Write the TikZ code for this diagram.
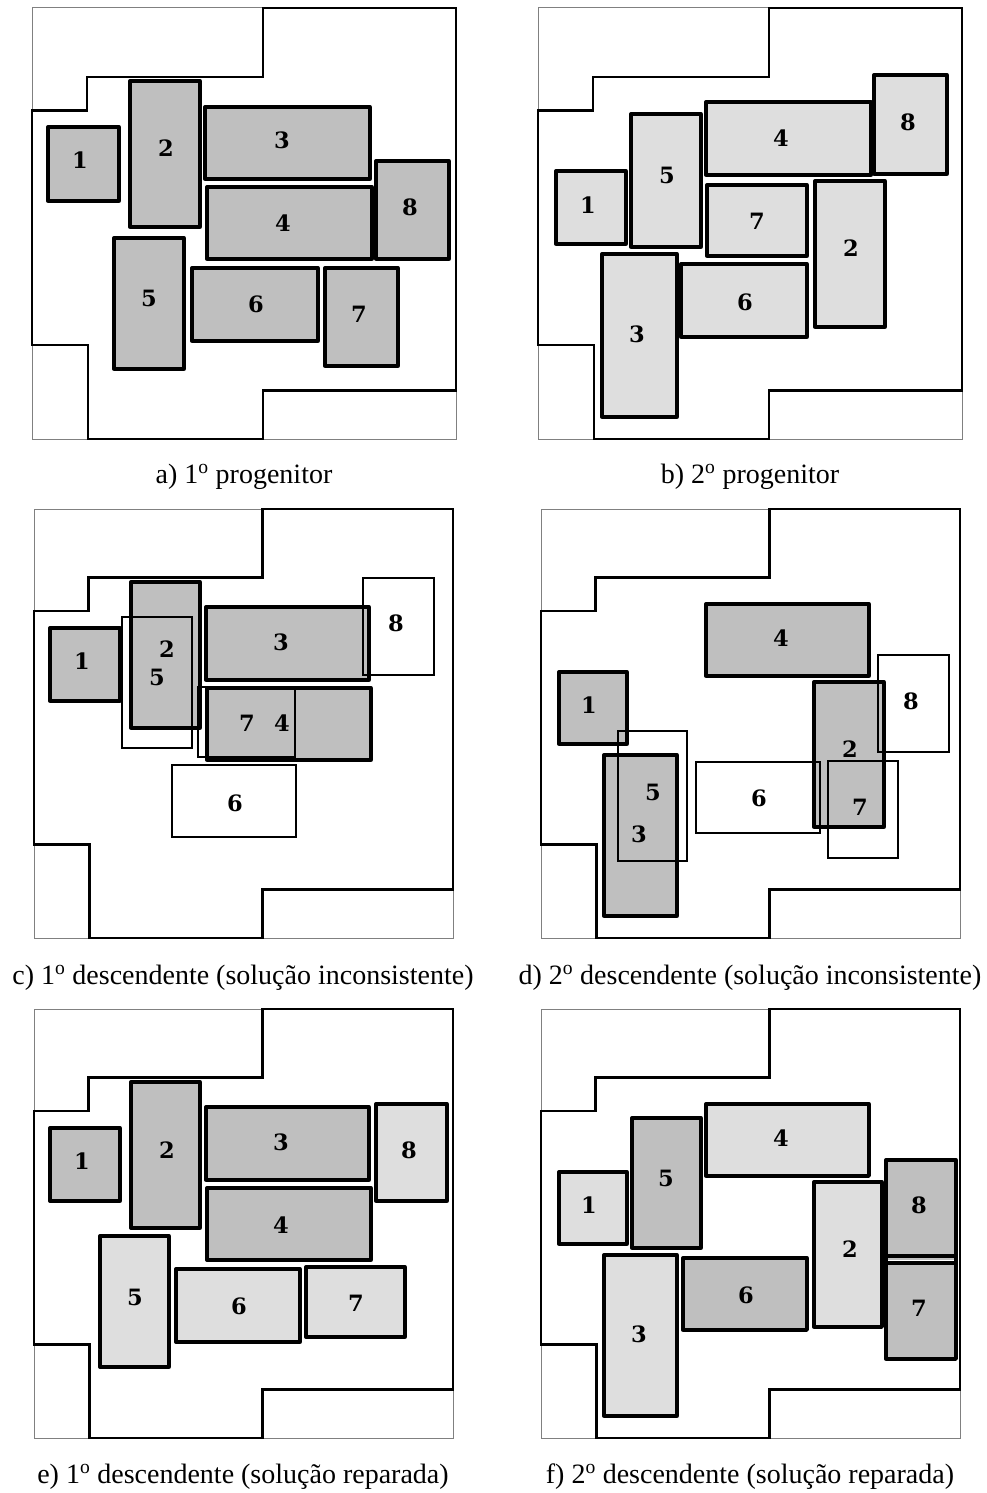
\documentclass[tikz,border=0pt]{standalone}
\usepackage{fontspec}
\setmainfont{Liberation Serif}
\newfontfamily\numfont{DejaVu Serif}
\definecolor{escuro}{gray}{0.75}
\definecolor{claro}{gray}{0.87}

\begin{document}
\begin{tikzpicture}[x=1pt,y=-1pt,
  moldura/.style={draw=gray,line width=1pt},
  contorno/.style={draw,line width=2.7pt},
  esc/.style={draw,line width=3.3pt,line join=round,fill=escuro},
  cla/.style={draw,line width=3.3pt,line join=round,fill=claro},
  vaz/.style={draw,line width=1.3pt},
  num/.style={inner sep=0pt,font=\numfont\fontsize{22.5}{22.5}\selectfont\bfseries},
  leg/.style={anchor=base,inner sep=0pt,font=\fontsize{28}{28}\selectfont}]
\useasboundingbox (0,0) rectangle (986,1493);
\foreach \xa/\ya/\xb/\yb in {32/8/456/439,538/8/962/439,34/509/453/938,541/509/960/938,34/1009/453/1438,541/1009/960/1438}{
  \pgfmathsetmacro\dx{\xb-\xa}\pgfmathsetmacro\dy{\yb-\ya}
  \draw[moldura] (\xa,\ya) rectangle (\xb,\yb);
  \draw[contorno] ({\xa+.545*\dx},\ya)--({\xa+.545*\dx},{\ya+.16*\dy})--({\xa+.13*\dx},{\ya+.16*\dy})--({\xa+.13*\dx},{\ya+.238*\dy})--(\xa,{\ya+.238*\dy})
    --(\xa,{\ya+.782*\dy})--({\xa+.132*\dx},{\ya+.782*\dy})--({\xa+.132*\dx},\yb)--({\xa+.545*\dx},\yb)--({\xa+.545*\dx},{\ya+.887*\dy})--(\xb,{\ya+.887*\dy})--(\xb,\ya)--cycle;}
\draw[esc] (48,127) rectangle (119,201);\node[num] (a1) at (80,160){1};
\draw[esc] (130,81) rectangle (200,227);\node[num] (a2) at (166,148){2};
\draw[esc] (205,107) rectangle (370,179);\node[num] (a3) at (282,140){3};
\draw[esc] (207,187) rectangle (372,259);\node[num] (a4) at (283,223){4};
\draw[esc] (114,238) rectangle (184,369);\node[num] (a5) at (149,298){5};
\draw[esc] (192,268) rectangle (318,341);\node[num] (a6) at (256,304){6};
\draw[esc] (325,268) rectangle (398,366);\node[num] (a7) at (359,314){7};
\draw[esc] (376,161) rectangle (449,259);\node[num] (a8) at (410,207){8};
\node[leg] (leg-a) at (244,483){a) 1\textsuperscript{o} progenitor};
\draw[cla] (556,171) rectangle (626,244);\node[num] (b1) at (588,205){1};
\draw[cla] (815,181) rectangle (885,327);\node[num] (b2) at (851,248){2};
\draw[cla] (602,254) rectangle (677,417);\node[num] (b3) at (637,334){3};
\draw[cla] (706,102) rectangle (871,175);\node[num] (b4) at (781,138){4};
\draw[cla] (631,114) rectangle (701,247);\node[num] (b5) at (667,175){5};
\draw[cla] (681,264) rectangle (807,337);\node[num] (b6) at (745,302){6};
\draw[cla] (707,185) rectangle (807,256);\node[num] (b7) at (757,221){7};
\draw[cla] (874,75) rectangle (947,174);\node[num] (b8) at (908,122){8};
\node[leg] (leg-b) at (750,483){b) 2\textsuperscript{o} progenitor};
\draw[esc] (50,628) rectangle (120,701);\draw[esc] (131,582) rectangle (200,728);\draw[esc] (206,607) rectangle (369,680);\draw[esc] (207,688) rectangle (371,760);
\draw[vaz] (122,617) rectangle (192,748);\draw[vaz] (172,765) rectangle (296,837);\draw[vaz] (198,687) rectangle (295,757);\draw[vaz] (363,578) rectangle (434,675);
\node[num] (c1) at (82,661){1};\node[num] (c2) at (167,649){2};\node[num] (c3) at (281,642){3};\node[num] (c4) at (282,723){4};
\node[num] (c5) at (157,677){5};\node[num] (c6) at (235,803){6};\node[num] (c7) at (247,723){7};\node[num] (c8) at (396,623){8};
\node[leg] (leg-c) at (243,984){c) 1\textsuperscript{o} descendente (solução inconsistente)};
\draw[esc] (559,672) rectangle (627,744);\draw[esc] (814,682) rectangle (884,827);\draw[esc] (604,755) rectangle (677,916);\draw[esc] (706,604) rectangle (869,676);
\draw[vaz] (618,731) rectangle (687,861);\draw[vaz] (696,762) rectangle (820,833);\draw[vaz] (828,761) rectangle (898,858);\draw[vaz] (878,655) rectangle (949,752);
\node[num] (d1) at (589,705){1};\node[num] (d2) at (850,749){2};\node[num] (d3) at (639,834){3};\node[num] (d4) at (781,638){4};
\node[num] (d5) at (653,792){5};\node[num] (d6) at (759,798){6};\node[num] (d7) at (860,807){7};\node[num] (d8) at (911,701){8};
\node[leg] (leg-d) at (750,984){d) 2\textsuperscript{o} descendente (solução inconsistente)};
\draw[esc] (50,1128) rectangle (120,1201);\node[num] (e1) at (82,1161){1};
\draw[esc] (131,1082) rectangle (200,1228);\node[num] (e2) at (167,1150){2};
\draw[esc] (206,1107) rectangle (369,1180);\node[num] (e3) at (281,1142){3};
\draw[esc] (207,1188) rectangle (371,1260);\node[num] (e4) at (281,1225){4};
\draw[cla] (100,1236) rectangle (169,1367);\node[num] (e5) at (135,1297){5};
\draw[cla] (176,1269) rectangle (300,1342);\node[num] (e6) at (239,1306){6};
\draw[cla] (306,1267) rectangle (405,1337);\node[num] (e7) at (356,1303){7};
\draw[cla] (376,1104) rectangle (447,1201);\node[num] (e8) at (409,1150){8};
\node[leg] (leg-e) at (243,1483){e) 1\textsuperscript{o} descendente (solução reparada)};
\draw[cla] (559,1172) rectangle (627,1244);\node[num] (f1) at (589,1205){1};
\draw[cla] (814,1182) rectangle (882,1327);\node[num] (f2) at (850,1249){2};
\draw[cla] (604,1255) rectangle (677,1416);\node[num] (f3) at (639,1334){3};
\draw[cla] (706,1104) rectangle (869,1176);\node[num] (f4) at (781,1138){4};
\draw[esc] (632,1118) rectangle (701,1248);\node[num] (f5) at (666,1178){5};
\draw[esc] (683,1258) rectangle (807,1330);\node[num] (f6) at (746,1295){6};
\draw[esc] (886,1256) rectangle (956,1263);\draw[white,line width=.8pt] (888,1260)--(954,1260);
\draw[esc] (886,1263) rectangle (956,1359);\node[num] (f7) at (919,1308){7};
\draw[esc] (886,1160) rectangle (956,1256);\node[num] (f8) at (919,1205){8};
\node[leg] (leg-f) at (750,1483){f) 2\textsuperscript{o} descendente (solução reparada)};
\end{tikzpicture}
\end{document}
